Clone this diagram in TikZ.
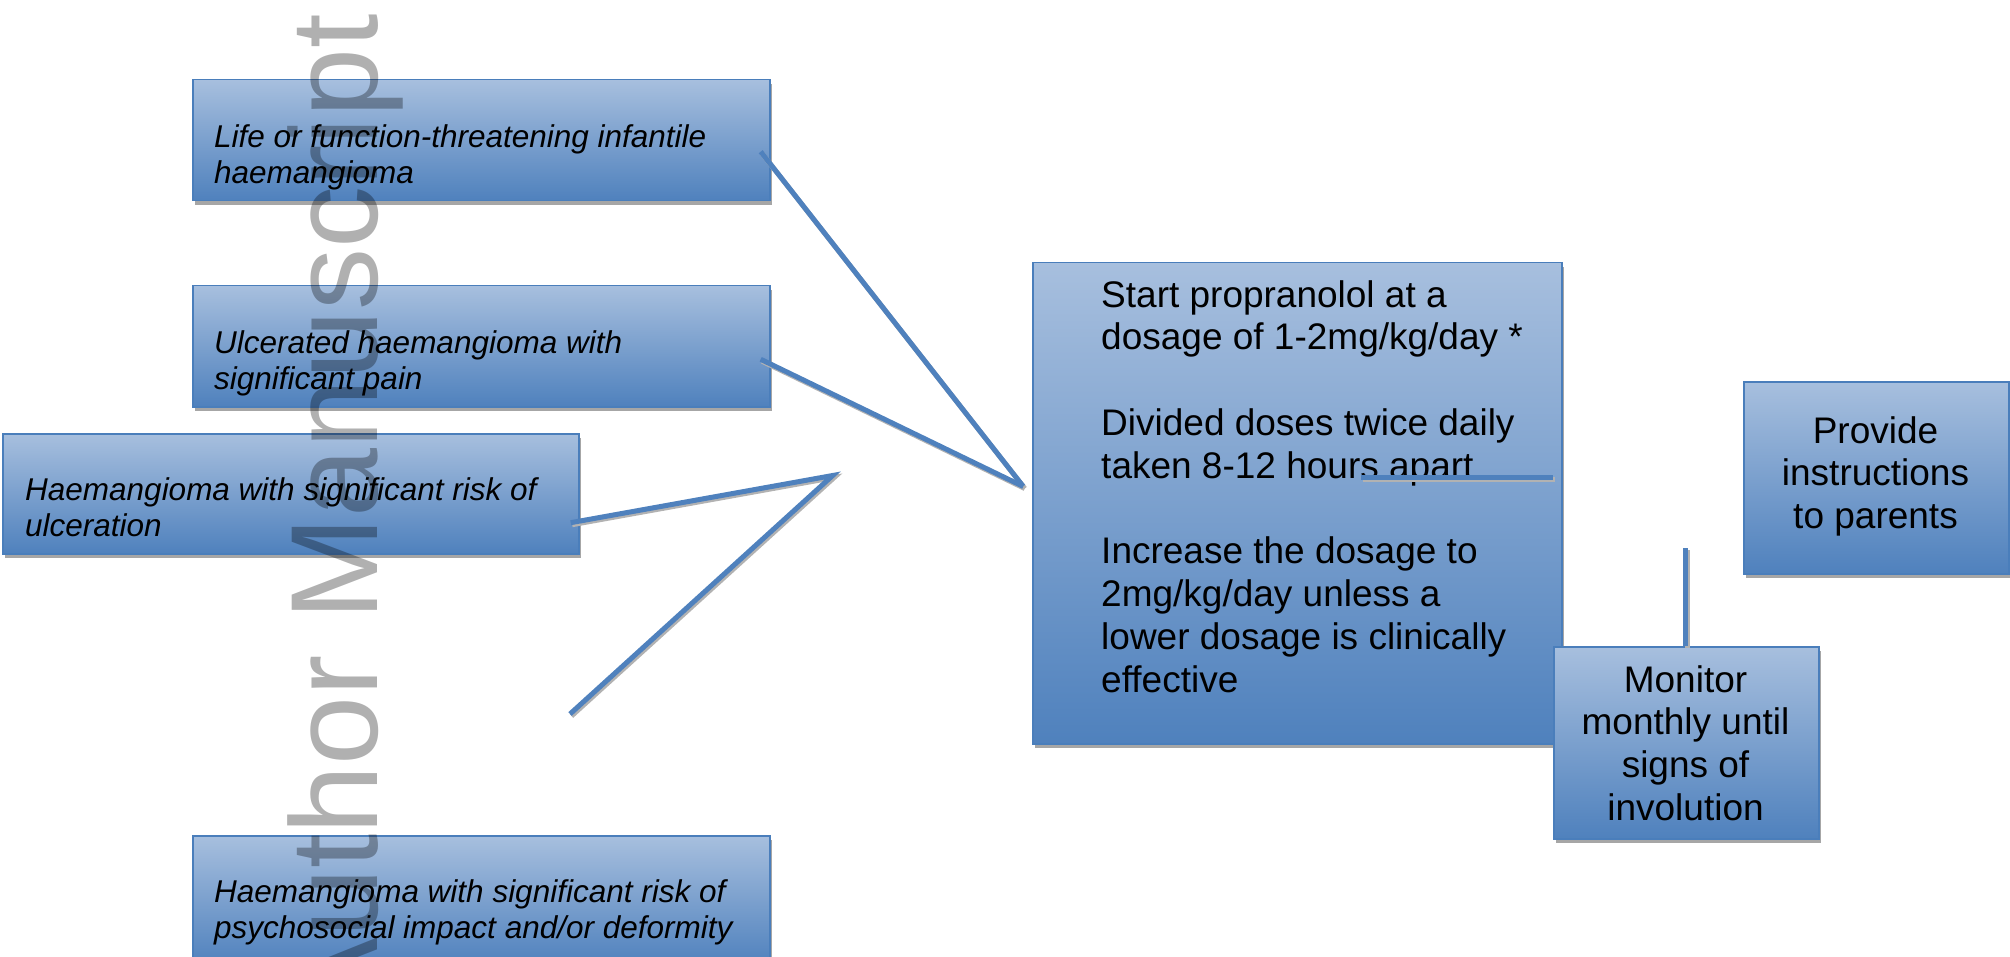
\documentclass[tikz,border=0pt]{standalone}
\usepackage{fontspec}
\setmainfont{Liberation Sans}
\usetikzlibrary{shadows,calc}
\definecolor{boxtop}{HTML}{A7BFDE}
\definecolor{boxbot}{HTML}{4F81BD}
\definecolor{boxedge}{HTML}{4A7EBB}
\definecolor{linblue}{HTML}{4F81BD}
\begin{document}
\begin{tikzpicture}[x=1pt,y=-1pt,
  box/.style={draw=boxedge, line width=1.5pt, top color=boxtop, bottom color=boxbot,
    inner sep=0pt, anchor=north west,
    drop shadow={shadow xshift=2pt, shadow yshift=-4pt, fill=black!35, opacity=1}},
  itxt/.style={anchor=north west, inner sep=0pt, align=left,
    font=\fontsize{31.5}{36}\selectfont\itshape},
  ctxt/.style={anchor=north west, inner sep=0pt, align=left,
    font=\fontsize{37}{42.8}\selectfont},
  mtxt/.style={anchor=north, inner sep=0pt, align=center,
    font=\fontsize{37}{42.8}\selectfont},
  conn/.style={draw=linblue, line width=5pt,
    preaction={draw=black!30, line width=5pt, transform canvas={shift={(1.5pt,-2pt)}}}},
  wmark/.style={rotate=90, anchor=base east, inner sep=0pt, text=black, opacity=0.31,
    font=\fontsize{124}{124}\selectfont}
]
\useasboundingbox (0,0) rectangle (2010,957);

% left boxes
\node[box, minimum width=577pt, minimum height=121pt] (b1) at (192,79) {};
\node[box, minimum width=577pt, minimum height=121pt] (b2) at (192,285) {};
\node[box, minimum width=576pt, minimum height=120pt] (b3) at (2,433) {};
\node[box, minimum width=577pt, minimum height=130pt] (b4) at (192,835) {};

\node[itxt] (t1) at (214,121.8) {\strut Life or function-threatening infantile\\haemangioma};
\node[itxt] (t2) at (214,327.8) {\strut Ulcerated haemangioma with\\significant pain};
\node[itxt] (t3) at (25,474.8) {\strut Haemangioma with significant risk of\\ulceration};
\node[itxt] (t4) at (214,876.8) {\strut Haemangioma with significant risk of\\psychosocial impact and/or deformity};

% central box
\node[box, minimum width=529pt, minimum height=481pt] (c) at (1032,262) {};
\node[ctxt] (ct) at (1101,277) {\strut Start propranolol at a\\dosage of 1-2mg/kg/day *\\[42.8pt]Divided doses twice daily\\taken 8-12 hours apart\\[42.8pt]Increase the dosage to\\2mg/kg/day unless a\\lower dosage is clinically\\effective};

% right boxes
\node[box, minimum width=265pt, minimum height=192pt] (p) at (1743,381) {};
\node[mtxt] (pt) at (1875.5,413) {\strut Provide\\instructions\\to parents};
\node[box, minimum width=265pt, minimum height=192pt] (m) at (1553,646) {};
\node[mtxt] (mt) at (1685.5,662) {\strut Monitor\\monthly until\\signs of\\involution};

% connector end points
\coordinate (a1) at (760.7,151.7);
\coordinate (a2) at (760.7,359.3);
\coordinate (a3) at (570.7,522.7);
\coordinate (a4) at (570,714);
\coordinate (j1) at (1023.3,486.5);
\coordinate (j2) at (832.7,475.5);
\coordinate (h1) at (1361,477);
\coordinate (v1) at (1685.5,548);

\draw[conn] (a1) -- (j1);
\draw[conn] (a2) -- (j1);
\draw[conn] (a3) -- (j2) -- (a4);
\draw[conn] (h1) -- (h1 -| m.west);
\draw[conn] (v1) -- (v1 |- m.north);

% watermark
\node[wmark] (wm) at (377,14) {Author Manuscript};
\end{tikzpicture}
\end{document}
